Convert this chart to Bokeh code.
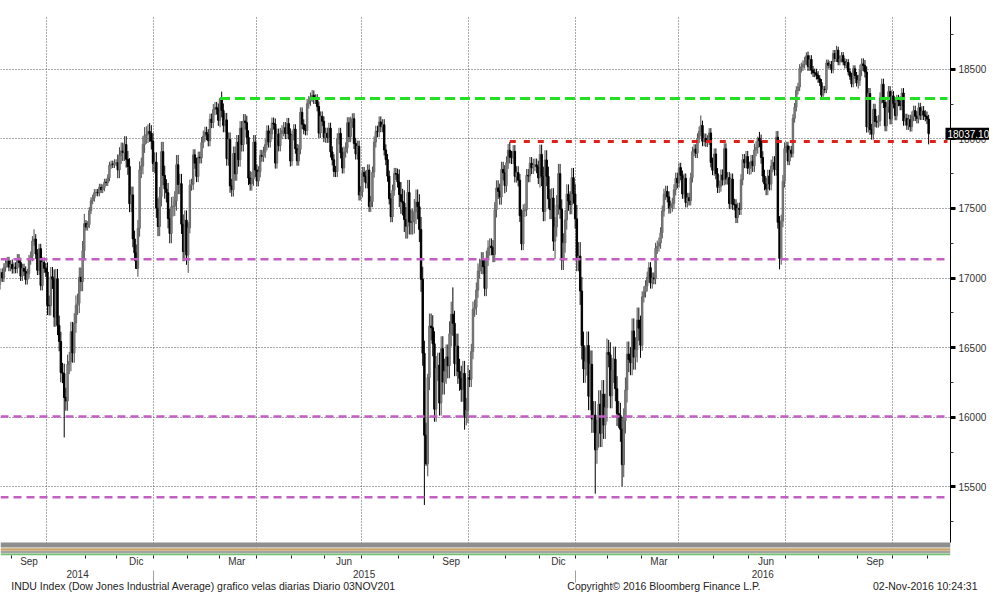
import numpy as np
import pandas as pd
from bokeh.plotting import figure
from bokeh.models import Range1d, FixedTicker, LinearAxis, Label, ColumnDataSource, Grid
from bokeh.embed import file_html
from bokeh.resources import INLINE

# ---------------- data: DJIA daily closes ----------------
c_2014_08 = [16979, 17039, 17001, 17076, 17106, 17122, 17079, 17098]
c_2014_09 = [17067, 17078, 17069, 17137, 17111, 17014, 17068, 17049, 16988, 17031, 17131,
             17156, 17266, 17280, 17173, 17056, 17211, 16946, 17113, 17071, 17043]
c_2014_10 = [16804, 16801, 17009, 16992, 16720, 16995, 16660, 16544, 16321, 16315, 16142,
             16117, 16380, 16400, 16615, 16462, 16677, 16805, 16818, 17006, 16975, 17196, 17391]
c_2014_11 = [17366, 17384, 17484, 17555, 17574, 17613, 17615, 17612, 17652, 17635, 17648,
             17688, 17686, 17720, 17810, 17818, 17815, 17828, 17828]
c_2014_12 = [17777, 17880, 17913, 17901, 17959, 17853, 17801, 17533, 17597, 17281, 17181,
             17069, 17357, 17778, 17805, 17959, 18024, 18030, 18053, 18038, 17983, 17823]
c_2015_01 = [17833, 17502, 17371, 17585, 17908, 17737, 17640, 17613, 17427, 17320, 17512,
             17516, 17554, 17814, 17672, 17678, 17387, 17191, 17416, 17165]
c_2015_02 = [17361, 17667, 17673, 17885, 17825, 17729, 17868, 17863, 17973, 18019, 18047,
             18030, 17986, 18141, 18117, 18210, 18225, 18214, 18133]
c_2015_03 = [18289, 18204, 18097, 18136, 17857, 17996, 17662, 17635, 17895, 17749, 17977,
             17850, 18077, 17959, 18128, 18116, 18011, 17718, 17678, 17713, 17977, 17776]
c_2015_04 = [17698, 17763, 17881, 17875, 17903, 17958, 18057, 17977, 18036, 18113, 18106,
             17826, 18034, 17950, 18038, 18058, 18080, 18038, 18110, 18035, 17841]
c_2015_05 = [18024, 18070, 17928, 17842, 17924, 18191, 18105, 18068, 18060, 18252, 18272,
             18298, 18312, 18285, 18285, 18232, 18041, 18162, 18126, 18011]
c_2015_06 = [18040, 18011, 18076, 17906, 17849, 17766, 17765, 18000, 18039, 17899, 17791,
             17905, 17935, 18115, 18016, 18119, 18144, 17967, 17891, 17947, 17597, 17620]
c_2015_07 = [17758, 17731, 17684, 17776, 17515, 17549, 17761, 17977, 18054, 18051, 18121,
             18087, 18101, 17920, 17851, 17732, 17569, 17441, 17631, 17751, 17746, 17690]
c_2015_08 = [17599, 17551, 17540, 17420, 17373, 17615, 17403, 17402, 17409, 17477, 17546,
             17512, 17349, 16991, 16460, 15871, 15666, 16285, 16655, 16643, 16528]
c_2015_09 = [16058, 16351, 16374, 16102, 16492, 16253, 16330, 16433, 16370, 16599, 16740,
             16675, 16385, 16511, 16330, 16280, 16201, 16315, 16001, 16049, 16285]
c_2015_10 = [16272, 16472, 16776, 16790, 16913, 17050, 17084, 17131, 17082, 16925, 17142,
             17216, 17230, 17218, 17169, 17490, 17647, 17623, 17582, 17780, 17756, 17664]
c_2015_11 = [17829, 17918, 17868, 17864, 17910, 17731, 17758, 17703, 17448, 17245, 17484,
             17490, 17738, 17733, 17824, 17792, 17812, 17813, 17798, 17720]
c_2015_12 = [17888, 17730, 17478, 17848, 17730, 17568, 17493, 17575, 17265, 17368, 17525,
             17750, 17495, 17128, 17252, 17418, 17603, 17553, 17528, 17721, 17604, 17425]
c_2016_01 = [17149, 17158, 16907, 16515, 16347, 16399, 16516, 16151, 16380, 15988, 16016,
             15766, 15882, 16094, 15886, 16167, 15944, 16069, 16466]
c_2016_02 = [16449, 16154, 16337, 16417, 16205, 16027, 16014, 15914, 15660, 15974, 16196,
             16454, 16414, 16392, 16620, 16432, 16485, 16698, 16640, 16517]
c_2016_03 = [16865, 16900, 16944, 17006, 17074, 16964, 17000, 16995, 17213, 17229, 17251,
             17325, 17481, 17602, 17623, 17583, 17503, 17516, 17536, 17634, 17717, 17685]
c_2016_04 = [17793, 17737, 17604, 17716, 17542, 17577, 17556, 17721, 17908, 17926, 17897,
             18004, 18053, 18096, 17982, 18003, 17977, 17991, 18042, 17830, 17774]
c_2016_05 = [17891, 17750, 17651, 17660, 17740, 17705, 17928, 17711, 17721, 17535, 17711,
             17530, 17526, 17435, 17501, 17493, 17706, 17851, 17829, 17873, 17787]
c_2016_06 = [17790, 17839, 17807, 17920, 17938, 18005, 17985, 17866, 17733, 17675, 17640,
             17733, 17675, 17805, 17830, 17780, 18011, 17400, 17141, 17410, 17695, 17930]
c_2016_07 = [17949, 17841, 17919, 17896, 18147, 18227, 18348, 18372, 18506, 18517, 18534,
             18559, 18596, 18518, 18571, 18493, 18474, 18473, 18456, 18432]
c_2016_08 = [18404, 18314, 18355, 18353, 18544, 18529, 18534, 18496, 18613, 18577, 18637,
             18553, 18574, 18598, 18553, 18530, 18548, 18482, 18449, 18395, 18503, 18455, 18401]
c_2016_09 = [18420, 18492, 18538, 18526, 18480, 18085, 18325, 18067, 18034, 18212, 18124,
             18120, 18130, 18294, 18392, 18261, 18094, 18228, 18339, 18144, 18308]
c_2016_10 = [18254, 18168, 18281, 18269, 18240, 18329, 18129, 18145, 18099, 18138, 18087,
             18162, 18203, 18163, 18146, 18224, 18170, 18200, 18170, 18161, 18142]
c_2016_11 = [18037.10]
first_open = 16920

# typical intraday wick beyond the candle body, per month (points)
month_wick = [30, 35, 70, 25, 60, 70, 40, 50, 40, 35, 40, 40, 90, 90,
              55, 45, 70, 100, 90, 40, 35, 40, 45, 30, 25, 40, 35, 30]

# notable intraday extremes
low_dates = ["2014-10-15", "2014-12-16", "2015-02-02", "2015-08-24", "2015-08-25",
             "2015-09-29", "2015-12-14", "2016-01-20", "2016-02-11", "2016-06-27",
             "2016-11-01", "2016-09-13"]
low_vals = [15855, 17068, 17037, 15370, 15651, 15942, 17138, 15451, 15503, 17063, 17960, 18028]
high_dates = ["2014-09-19", "2014-12-26", "2015-03-02", "2015-05-19", "2015-11-04",
              "2016-04-20", "2016-06-08", "2016-08-15", "2016-07-20", "2015-08-26",
              "2015-09-17"]
high_vals = [17350, 18103, 18288, 18351, 17978, 18168, 18016, 18668, 18622, 16312, 16933]

holidays = ["2014-09-01", "2014-11-27", "2014-12-25", "2015-01-01", "2015-01-19",
            "2015-02-16", "2015-04-03", "2015-05-25", "2015-07-03", "2015-09-07",
            "2015-11-26", "2015-12-25", "2016-01-01", "2016-01-18", "2016-02-15",
            "2016-03-25", "2016-05-30", "2016-07-04", "2016-09-05"]

level_vals = [18290, 17980, 17135, 16005, 15425]
level_starts = ["2015-03-02", "2015-11-04", None, None, None]

price_ticks = [15500, 16000, 16500, 17000, 17500, 18000, 18500]
price_minor = [15250, 15750, 16250, 16750, 17250, 17750, 18250, 18750]
month_names = {9: "Sep", 12: "Dic", 3: "Mar", 6: "Jun"}
year_names = ["2014", "2015", "2016"]
last_price_text = "18037.10"
footer_left = "INDU Index (Dow Jones Industrial Average) grafico velas diarias  Diario 03NOV201"
footer_mid = "Copyright\u00a9 2016 Bloomberg Finance L.P."
footer_right = "02-Nov-2016 10:24:31"

# ---------------- build series ----------------
months = [c_2014_08, c_2014_09, c_2014_10, c_2014_11, c_2014_12, c_2015_01, c_2015_02,
          c_2015_03, c_2015_04, c_2015_05, c_2015_06, c_2015_07, c_2015_08, c_2015_09,
          c_2015_10, c_2015_11, c_2015_12, c_2016_01, c_2016_02, c_2016_03, c_2016_04,
          c_2016_05, c_2016_06, c_2016_07, c_2016_08, c_2016_09, c_2016_10, c_2016_11]
closes = [float(v) for m in months for v in m]
wick_per_day = [w for m, w in zip(months, month_wick) for _ in m]
dates = pd.bdate_range("2014-08-20", "2016-11-01", freq="C", holidays=holidays)
if len(dates) != len(closes):
    raise SystemExit(f"dates {len(dates)} vs closes {len(closes)}")
n = len(closes)
idx = np.arange(n)
opens = [float(first_open)] + closes[:-1]
dkeys = [d.strftime("%Y-%m-%d") for d in dates]
lo_map = dict(zip(low_dates, low_vals))
hi_map = dict(zip(high_dates, high_vals))
tops = [max(o, c) for o, c in zip(opens, closes)]
bots = [min(o, c) for o, c in zip(opens, closes)]
highs = [hi_map.get(k, t + w) for t, k, w in zip(tops, dkeys, wick_per_day)]
lows = [lo_map.get(k, b - w) for b, k, w in zip(bots, dkeys, wick_per_day)]
up = [c >= o for o, c in zip(opens, closes)]
fills = ["#8c8c8c" if u else "#000000" for u in up]
lines = ["#6a6a6a" if u else "#000000" for u in up]
wicks = ["#4a4a4a" if u else "#000000" for u in up]
src = ColumnDataSource(dict(x=idx, top=tops, bottom=bots, high=highs, low=lows,
                            fill=fills, line=lines, wick=wicks))

starts = [0] + [i for i in range(1, n) if dates[i].month != dates[i - 1].month]
ends = starts[1:] + [n]
month_bounds = [s - 0.5 for s in starts[1:]]
quarter_lines = [s - 0.5 for s in starts[1:] if dates[s].month in (1, 4, 7, 10)]
year_bounds = [s - 0.5 for s in starts[1:] if dates[s].month == 1]

# ---------------- geometry (reference pixel grid) ----------------
W, H = 989, 594
TOP = 16                      # row used by the last-price tag
FRAME_W = 951
FRAME_B = 558                 # frame bottom, px from top of canvas
X_LO, X_HI = 0.97, 568.05
PX_PER_PT = 0.14              # vertical scale of the price axis
Y_HI = 18500 + (69 - TOP) / PX_PER_PT
Y_LO = 18500 - (FRAME_B - 69) / PX_PER_PT
per_px = (X_HI - X_LO) / FRAME_W

def v_at(px):
    return 18500 - (px - 69) / PX_PER_PT

def x_at(px):
    return X_LO + px * per_px

bottom_labels = {}
for s, e in zip(starts, ends):
    m = dates[s].month
    if m in month_names and e - s > 5:
        bottom_labels[int(round((s + e - 1) / 2))] = month_names[m]
yb = [X_LO] + year_bounds + [X_HI]
for k, yr in enumerate(year_names):
    bottom_labels[int(round((yb[k] + yb[k + 1]) / 2))] = "\n" + yr
footer_labels = {int(round(x_at(205))): footer_left,
                 int(round(x_at(664))): footer_mid,
                 int(round(x_at(926))): footer_right}

FONT = "Liberation Sans"

p = figure(width=W, height=H, x_range=Range1d(X_LO, X_HI), y_range=Range1d(Y_LO, Y_HI),
           output_backend="svg", toolbar_location=None, title=None,
           x_axis_location=None, y_axis_location=None,
           min_border_left=0, min_border_top=TOP, min_border_right=W - FRAME_W,
           min_border_bottom=H - FRAME_B,
           background_fill_color="white", border_fill_color="white")
p.outline_line_color = None
p.grid.visible = False

p.add_layout(Grid(dimension=0, ticker=FixedTicker(ticks=quarter_lines),
                  grid_line_color="#555555", grid_line_dash="1 2", grid_line_width=1))
p.add_layout(Grid(dimension=1, ticker=FixedTicker(ticks=price_ticks),
                  grid_line_color="#555555", grid_line_dash="1 2", grid_line_width=1))

# collapsed indicator strips at the bottom of the chart
band_px = [(545, 550.0, "#8e8e8e"), (550.6, 553.2, "#c9a46c"),
           (553.4, 555.8, "#a3a3a3"), (556.1, 558.0, "#72c072")]
p.quad(left=X_LO, right=X_HI, top=[v_at(a) for a, b, c in band_px],
       bottom=[v_at(b) for a, b, c in band_px], color=[c for a, b, c in band_px],
       line_color=None)

# candles
p.segment(x0="x", y0="high", x1="x", y1="low", source=src, line_color="wick", line_width=1)
p.vbar(x="x", width=0.85, top="top", bottom="bottom", source=src,
       fill_color="fill", line_color="line", line_width=1)

# level lines
level_styles = [("#22e022", "10 5", 3.0), ("#e0201a", "6 8", 3.0),
                ("#c35ec3", "8 5", 2.4), ("#c35ec3", "8 5", 2.4), ("#c35ec3", "8 5", 2.4)]
x_end = X_HI - 3 * per_px
for v, st, (col, dash, w) in zip(level_vals, level_starts, level_styles):
    x0 = dkeys.index(st) if st else X_LO
    p.segment(x0=[x0], y0=[v], x1=[x_end], y1=[v], line_color=col, line_dash=dash,
              line_width=w)

# right price axis
yax = LinearAxis(ticker=FixedTicker(ticks=price_ticks, minor_ticks=price_minor),
                 bounds=(v_at(545), Y_HI))
yax.axis_line_color = "black"
yax.major_tick_line_color = "black"
yax.major_tick_line_width = 3
yax.major_tick_in = 0
yax.major_tick_out = 5
yax.minor_tick_line_color = "#333333"
yax.minor_tick_in = 0
yax.minor_tick_out = 3
yax.major_label_text_font = FONT
yax.major_label_text_font_size = "10px"
yax.major_label_text_color = "#333333"
yax.major_label_standoff = 3
p.add_layout(yax, "right")

# months (line 1) and years (line 2)
xax = LinearAxis(ticker=FixedTicker(ticks=sorted(bottom_labels), minor_ticks=month_bounds))
xax.major_label_overrides = bottom_labels
xax.axis_line_color = None
xax.major_tick_line_color = None
xax.major_tick_out = 0
xax.minor_tick_line_color = "#222222"
xax.minor_tick_in = 0
xax.minor_tick_out = 3
xax.major_label_text_font = FONT
xax.major_label_text_font_size = "10px"
xax.major_label_text_color = "#333333"
xax.major_label_standoff = -3
p.add_layout(xax, "below")

# footer row; year separators as inward ticks
fax = LinearAxis(ticker=FixedTicker(ticks=sorted(footer_labels), minor_ticks=year_bounds))
fax.major_label_overrides = footer_labels
fax.axis_line_color = None
fax.major_tick_line_color = None
fax.major_tick_out = 0
fax.minor_tick_line_color = "#a0a0a0"
fax.minor_tick_in = 12
fax.minor_tick_out = 0
fax.major_label_text_font = FONT
fax.major_label_text_font_size = "10.5px"
fax.major_label_text_color = "#222222"
fax.major_label_standoff = -3
p.add_layout(fax, "below")

# last-price tag (side-panel label, so it may sit over the axis column)
p.add_layout(Label(x=FRAME_W - 6, y=closes[-1], x_units="screen", y_units="data",
                   text=last_price_text, text_font=FONT, text_font_size="10px",
                   text_color="white", text_baseline="middle", text_align="left",
                   background_fill_color="black", padding=2), "above")

open("out.html", "w").write(file_html(p, INLINE))
